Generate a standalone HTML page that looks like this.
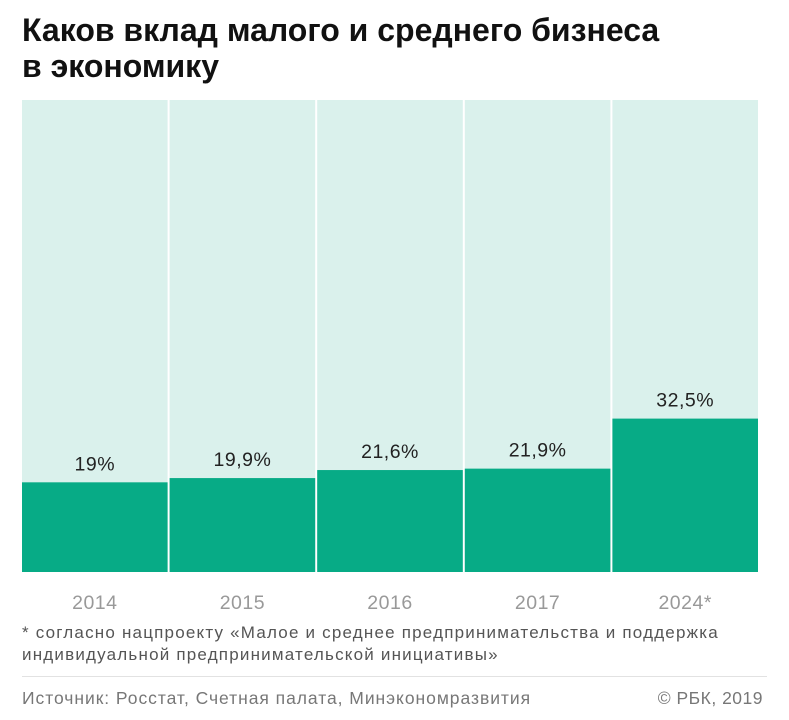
<!DOCTYPE html>
<html><head><meta charset="utf-8">
<style>
body{margin:0;width:789px;height:720px;background:#fff;font-family:"Liberation Sans",sans-serif;overflow:hidden;position:relative}
.t{position:absolute;left:22px;top:12px;font-size:32px;font-weight:bold;line-height:36px;color:#111;letter-spacing:0px}
.note{position:absolute;left:22px;top:622px;font-size:17px;line-height:22px;color:#555;letter-spacing:1.2px;white-space:nowrap}
.src{position:absolute;left:22px;top:688px;font-size:17.5px;color:#777;letter-spacing:0.95px}
.cr{position:absolute;right:26px;top:688px;font-size:17.5px;color:#777;letter-spacing:0.5px}
.rule{position:absolute;left:22px;right:22px;top:676px;height:1px;background:#e2e2e2}
</style></head><body>
<div class="t">Каков вклад малого и среднего бизнеса<br>в экономику</div>
<svg id="c" width="789" height="720" style="position:absolute;left:0;top:0"></svg>
<div class="note">* согласно нацпроекту  «Малое и среднее предпринимательства и поддержка<br>индивидуальной предпринимательской инициативы»</div>
<div class="rule"></div>
<div class="src">Источник: Росстат, Счетная палата, Минэкономразвития</div>
<div class="cr">© РБК, 2019</div>
<script>
const categories=["2014","2015","2016","2017","2024*"];
const values=[19,19.9,21.6,21.9,32.5];
const valueLabels=["19%","19,9%","21,6%","21,9%","32,5%"];
const svg=document.getElementById('c');
const NS='http://www.w3.org/2000/svg';
const x0=22,x1=760,yTop=100,yBot=572,gap=2;
const bw=(x1-x0)/categories.length;
function y(v){return yBot-(v/100)*(yBot-yTop);}
function mk(t,a){const e=document.createElementNS(NS,t);for(const k in a)e.setAttribute(k,a[k]);svg.appendChild(e);return e;}
categories.forEach((c,i)=>{
  const x=x0+i*bw;
  const bg=mk('rect',{x:x,y:yTop,width:bw-gap,height:yBot-yTop,fill:'#daf1ec'});
  
  
  const b=mk('rect',{x:x,y:y(values[i]),width:bw-gap,height:yBot-y(values[i]),fill:'#07ab86'});
  
  
  const l=mk('text',{x:x+(bw-gap)/2,y:y(values[i])-12,'text-anchor':'middle','font-size':'19.5',fill:'#222','letter-spacing':'0.5'});
  l.textContent=valueLabels[i];
  
  
  const t=mk('text',{x:x+(bw-gap)/2,y:609,'text-anchor':'middle','font-size':'19.5',fill:'#999','letter-spacing':'0.5'});
  t.textContent=c;
  
  
});
</script>
</body></html>
